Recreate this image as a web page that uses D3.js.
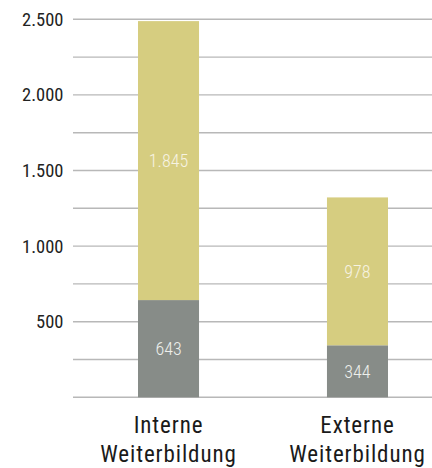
<!DOCTYPE html>
<html><head><meta charset="utf-8">
<script src="https://cdn.jsdelivr.net/npm/d3@7"></script>
<style>
html,body{margin:0;padding:0;background:#fff;}
svg{display:block;font-family:"Roboto Condensed","Liberation Sans Narrow",sans-serif;}
</style></head><body>
<svg id="c" width="432" height="468"></svg>
<script>
const categories = [["Interne","Weiterbildung"],["Externe","Weiterbildung"]];
const lowerValues = [643, 344];
const upperValues = [1845, 978];
const tickValues = [500, 1000, 1500, 2000, 2500];
const gridValues = [0, 250, 500, 750, 1000, 1250, 1500, 1750, 2000, 2250, 2500];

(function(){
const svg = d3.select("#c");
const mLeft = 73, mRight = 432, mTop = 19.3, mBottom = 397.3;
const y = d3.scaleLinear().domain([0, 2500]).range([mBottom, mTop]);
const x = d3.scaleBand().domain(categories.map((d,i)=>i)).range([73, 453]).paddingInner(0.677).paddingOuter(0.344);
const fmt = v => d3.format(",")(v).replace(/,/g, ".");

svg.append("g").selectAll("line").data(gridValues).join("line")
  .attr("x1", mLeft).attr("x2", mRight)
  .attr("y1", d => y(d)).attr("y2", d => y(d))
  .attr("stroke", "#b8b8b8").attr("stroke-width", 1.4);

const yAxis = d3.axisLeft(y).tickValues(tickValues).tickFormat(fmt).tickSize(0).tickPadding(0);
const ga = svg.append("g").attr("transform", "translate(63.5,0)").call(yAxis);
ga.select(".domain").remove();
ga.attr("font-family", null).attr("font-size", null);
ga.selectAll("text").attr("font-size", 18.5).attr("font-weight", 400).attr("fill", "#222");

const stack = categories.map((c,i)=>({i, lo: lowerValues[i], hi: upperValues[i]}));
const g = svg.append("g");
g.selectAll("rect.lo").data(stack).join("rect")
  .attr("x", d => x(d.i)).attr("width", x.bandwidth())
  .attr("y", d => y(d.lo)).attr("height", d => y(0) - y(d.lo))
  .attr("fill", "#878c88");
g.selectAll("rect.hi").data(stack).join("rect")
  .attr("x", d => x(d.i)).attr("width", x.bandwidth())
  .attr("y", d => y(d.lo + d.hi)).attr("height", d => y(d.lo) - y(d.lo + d.hi))
  .attr("fill", "#d6cd80");

g.selectAll("text.lo").data(stack).join("text")
  .attr("x", d => x(d.i) + x.bandwidth()/2).attr("y", d => y(d.lo/2)).attr("dy", "0.36em")
  .attr("text-anchor", "middle").attr("font-size", 18).attr("font-weight", 300).attr("fill", "#eef0ec")
  .text(d => fmt(d.lo));
g.selectAll("text.hi").data(stack).join("text")
  .attr("x", d => x(d.i) + x.bandwidth()/2).attr("y", d => y(d.lo + d.hi/2)).attr("dy", "0.36em")
  .attr("text-anchor", "middle").attr("font-size", 18).attr("font-weight", 300).attr("fill", "#f6f3e2")
  .text(d => fmt(d.hi));

const cl = svg.append("g").selectAll("text").data(categories).join("text")
  .attr("text-anchor", "middle").attr("font-size", 23).attr("letter-spacing", 0.9).attr("fill", "#1a1a1a")
  .attr("x", (d,i) => x(i) + x.bandwidth()/2);
cl.each(function(d){
  const t = d3.select(this);
  d.forEach((s,k) => t.append("tspan").attr("x", t.attr("x")).attr("y", 433 + k*29).text(s));
});
})();
</script>
</body></html>
